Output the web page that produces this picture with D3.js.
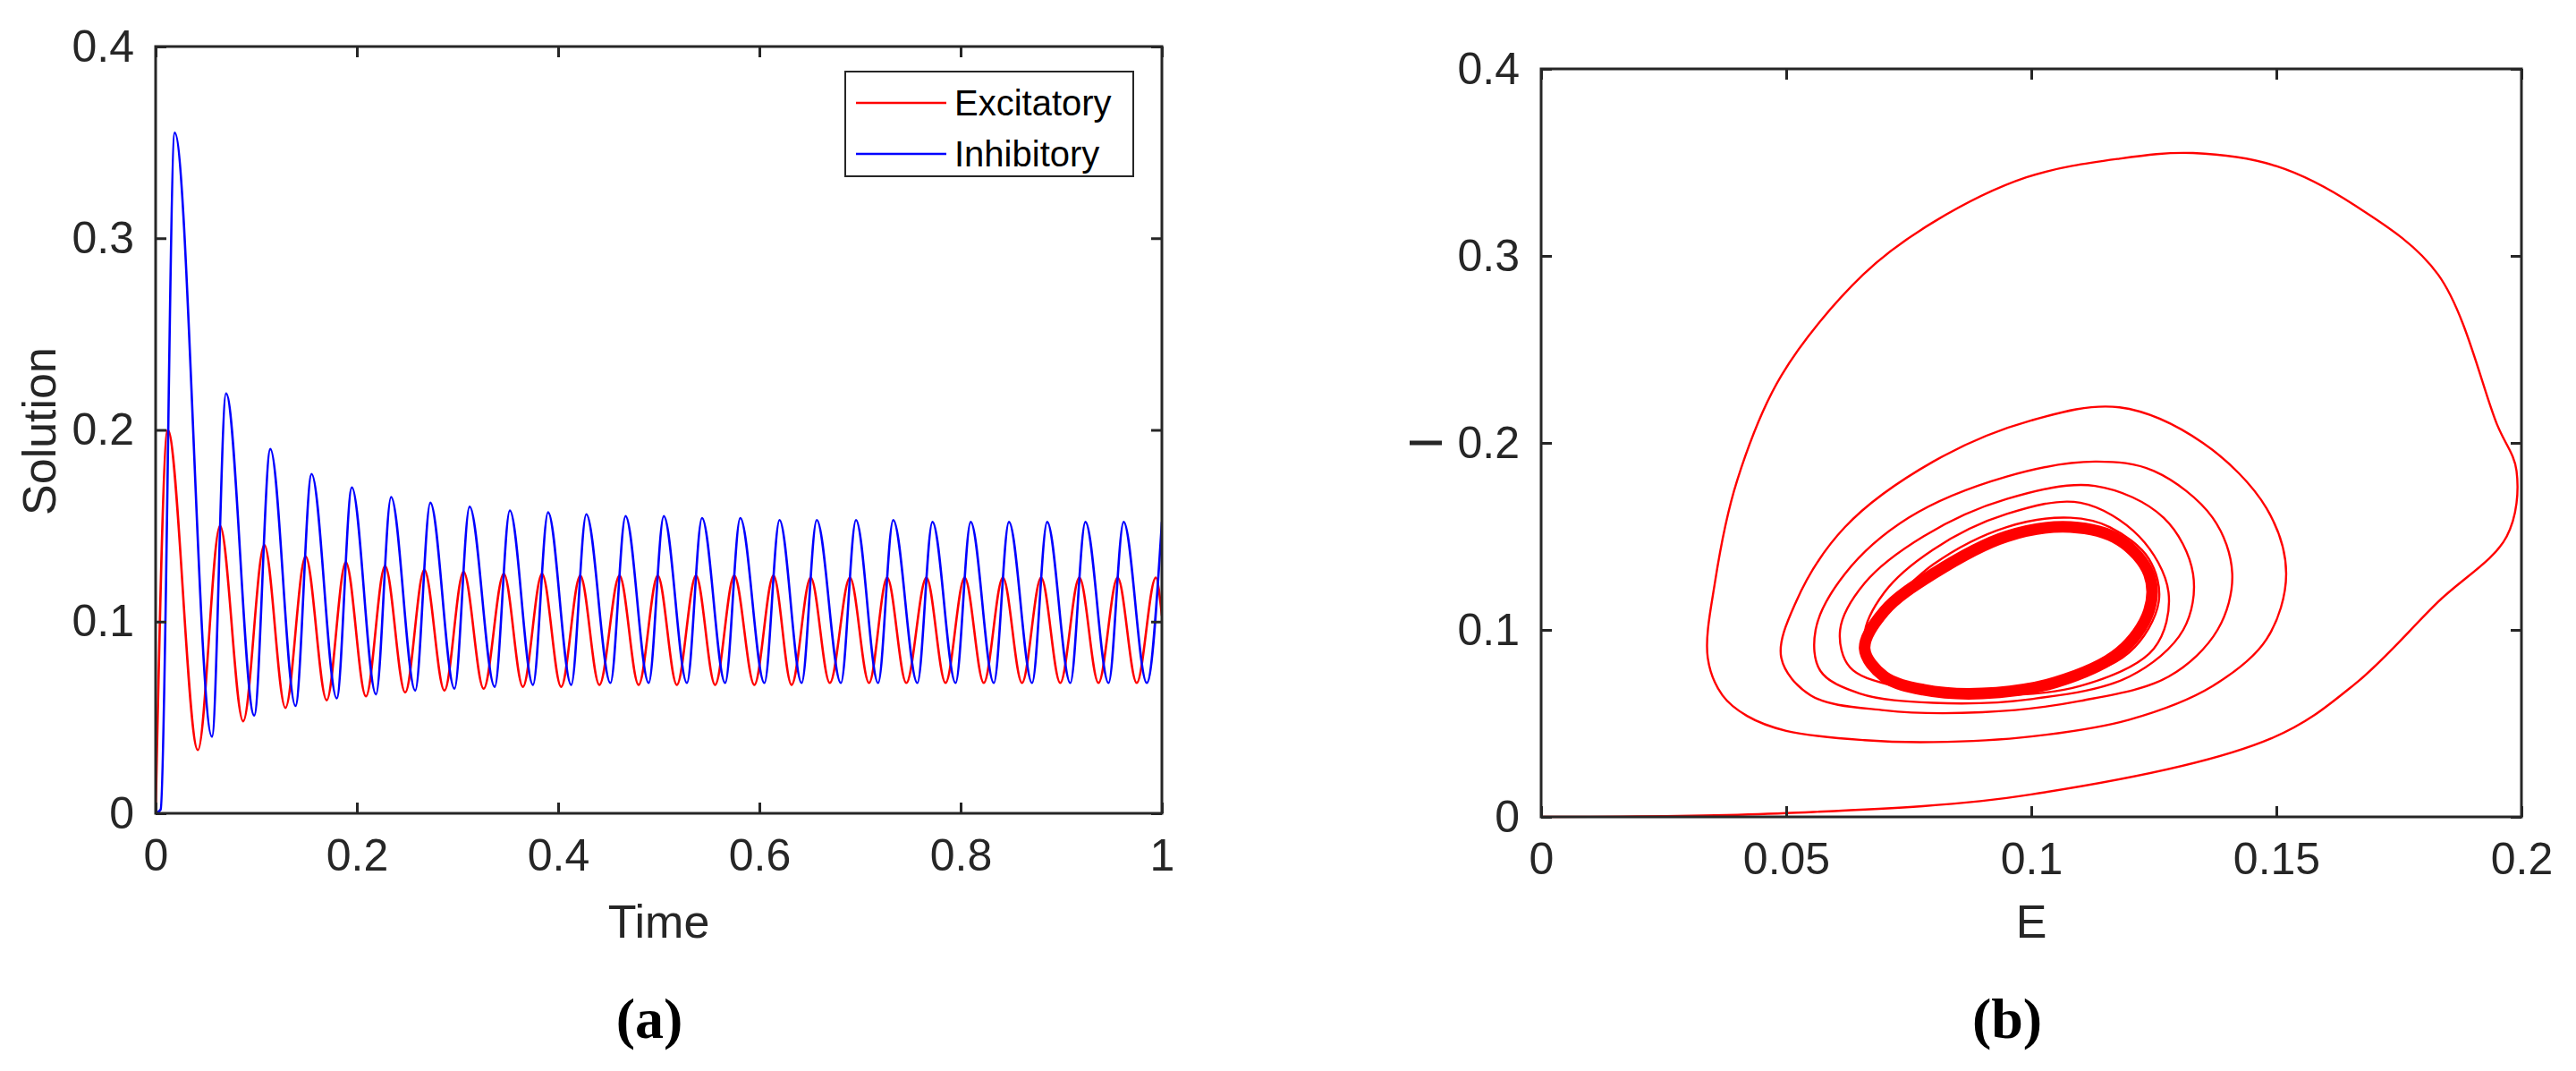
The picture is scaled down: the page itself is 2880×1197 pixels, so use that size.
<!DOCTYPE html>
<html><head><meta charset="utf-8">
<script src="https://cdn.jsdelivr.net/npm/d3@7"></script>
<style>body{margin:0;background:#fff}svg{display:block}</style>
</head><body>
<svg id="c" width="2880" height="1197"></svg>
<script>
// Panel (a): time series key points (t, value)
const excT = [0,0.012,0.042,0.064,0.087,0.108,0.129,0.149,0.170,0.189,0.209,0.228,0.248,0.267,0.287,0.306,0.326,0.346,0.365,0.384,0.403,0.422,0.441,0.461,0.480,0.499,0.518,0.537,0.556,0.575,0.595,0.614,0.632,0.651,0.670,0.690,0.709,0.727,0.746,0.766,0.785,0.804,0.823,0.842,0.861,0.880,0.899,0.918,0.937,0.956,0.975,0.994,1.0];
const excV = [0,0.200,0.033,0.150,0.048,0.140,0.055,0.134,0.059,0.131,0.061,0.129,0.063,0.127,0.064,0.126,0.065,0.125,0.066,0.125,0.066,0.124,0.067,0.124,0.067,0.124,0.067,0.124,0.067,0.124,0.067,0.124,0.067,0.123,0.068,0.123,0.068,0.123,0.068,0.123,0.068,0.123,0.068,0.123,0.068,0.123,0.068,0.123,0.068,0.123,0.068,0.123,0.103];
const inhT = [0,0.005,0.019,0.056,0.070,0.098,0.114,0.139,0.155,0.180,0.195,0.219,0.234,0.258,0.273,0.297,0.312,0.337,0.352,0.375,0.390,0.413,0.428,0.452,0.467,0.490,0.505,0.528,0.543,0.566,0.581,0.605,0.620,0.642,0.657,0.681,0.696,0.718,0.733,0.757,0.772,0.795,0.810,0.833,0.848,0.871,0.886,0.909,0.924,0.947,0.962,0.985,1.0];
const inhV = [0,0.002,0.355,0.040,0.219,0.051,0.190,0.056,0.177,0.060,0.170,0.062,0.165,0.064,0.162,0.065,0.160,0.066,0.158,0.067,0.157,0.067,0.156,0.068,0.155,0.068,0.155,0.068,0.154,0.068,0.154,0.068,0.153,0.068,0.153,0.068,0.153,0.068,0.153,0.068,0.152,0.068,0.152,0.068,0.152,0.068,0.152,0.068,0.152,0.068,0.152,0.068,0.152];
const timeTicks = [0,0.2,0.4,0.6,0.8,1];
const solTicks = [0,0.1,0.2,0.3,0.4];
const legendLabels = ["Excitatory","Inhibitory"];

// Panel (b): phase trajectory (E, I)
const spiralE = [0,0.05,0.1,0.149,0.166,0.183,0.197,0.199,0.195,0.183,0.166,0.15,0.133,0.118,0.099,0.08,0.0657,0.049,0.04,0.0355,0.034,0.037,0.042,0.05,0.066,0.08,0.1,0.12,0.137,0.148,0.152,0.148,0.135,0.118,0.1,0.08,0.062,0.052,0.049,0.055,0.07,0.09,0.11,0.128,0.138,0.141,0.137,0.125,0.113,0.095,0.075,0.062,0.056,0.057,0.065,0.08,0.1,0.12,0.131,0.133,0.127,0.113,0.095,0.078,0.066,0.061,0.063,0.072,0.09,0.11,0.125,0.128,0.122,0.11,0.095,0.08,0.07,0.066,0.069,0.078,0.09,0.105,0.12,0.126,0.124,0.116,0.108,0.095,0.08,0.068];
const spiralI = [0,0.002,0.012,0.042,0.071,0.115,0.15,0.185,0.21,0.29,0.327,0.348,0.355,0.352,0.342,0.318,0.29,0.236,0.18,0.126,0.085,0.065,0.054,0.046,0.041,0.040,0.043,0.052,0.07,0.095,0.13,0.165,0.2,0.219,0.212,0.19,0.155,0.115,0.085,0.065,0.057,0.056,0.062,0.075,0.1,0.13,0.16,0.185,0.19,0.182,0.16,0.13,0.1,0.078,0.066,0.061,0.063,0.075,0.1,0.13,0.16,0.177,0.17,0.15,0.125,0.1,0.08,0.07,0.065,0.07,0.09,0.12,0.15,0.168,0.162,0.143,0.12,0.097,0.078,0.069,0.066,0.071,0.088,0.115,0.138,0.155,0.16,0.155,0.135,0.105];
const cycleE = [0.066,0.070,0.078,0.09,0.105,0.118,0.124,0.124,0.118,0.108,0.095,0.08,0.07];
const cycleI = [0.09,0.075,0.068,0.066,0.072,0.088,0.11,0.13,0.148,0.155,0.15,0.13,0.11];
const eTicks = [0,0.05,0.1,0.15,0.2];
const iTicks = [0,0.1,0.2,0.3,0.4];

const svg = d3.select("#c");
const FONT = "'Liberation Sans', Arial, sans-serif";
const AX = "#262626";

function frame(g, x, y, xt, yt, xfmt, yfmt) {
  const [x0,x1] = x.range(), [y0,y1] = y.range();
  const tl = 12;
  g.append("rect").attr("x",x0).attr("y",y1).attr("width",x1-x0).attr("height",y0-y1)
    .attr("fill","none").attr("stroke",AX).attr("stroke-width",3);
  const bx = d3.axisBottom(x).tickValues(xt).tickSize(-tl).tickPadding(28).tickFormat(xfmt);
  const by = d3.axisLeft(y).tickValues(yt).tickSize(-tl).tickPadding(24).tickFormat(yfmt);
  const gx = g.append("g").attr("transform",`translate(0,${y0})`).call(bx);
  const gy = g.append("g").attr("transform",`translate(${x0},0)`).call(by);
  const gx2 = g.append("g").attr("transform",`translate(0,${y1})`).call(d3.axisTop(x).tickValues(xt).tickSize(-tl).tickFormat(""));
  const gy2 = g.append("g").attr("transform",`translate(${x1},0)`).call(d3.axisRight(y).tickValues(yt).tickSize(-tl).tickFormat(""));
  [gx,gy,gx2,gy2].forEach(a=>{
    a.select(".domain").remove();
    a.selectAll("line").attr("stroke",AX).attr("stroke-width",3);
    a.selectAll("text").attr("fill",AX).style("font-family",FONT).style("font-size","50px");
  });
}
const fmt = d => String(d);

// Panel (a)
{
  const x = d3.scaleLinear().domain([0,1]).range([174,1299]);
  const y = d3.scaleLinear().domain([0,0.4]).range([909,52]);
  const g = svg.append("g");
  const line = d3.line().x(d=>x(d[0])).y(d=>y(d[1])).curve(d3.curveMonotoneX);
  g.append("clipPath").attr("id","ca").append("rect").attr("x",174).attr("y",52).attr("width",1125).attr("height",857);
  g.append("path").datum(excT.map((t,i)=>[t,excV[i]])).attr("d",line)
    .attr("fill","none").attr("stroke","#ff0000").attr("stroke-width",2.6).attr("clip-path","url(#ca)");
  g.append("path").datum(inhT.map((t,i)=>[t,inhV[i]])).attr("d",line)
    .attr("fill","none").attr("stroke","#0000ff").attr("stroke-width",2.6).attr("clip-path","url(#ca)");
  frame(g, x, y, timeTicks, solTicks, fmt, fmt);
  g.append("text").attr("x",(174+1299)/2).attr("y",1048).attr("text-anchor","middle")
    .attr("fill",AX).style("font-family",FONT).style("font-size","52px").text("Time");
  g.append("text").attr("transform","translate(62,482) rotate(-90)").attr("text-anchor","middle")
    .attr("fill",AX).style("font-family",FONT).style("font-size","52px").text("Solution");
  const lg = g.append("g");
  lg.append("rect").attr("x",945).attr("y",80).attr("width",322).attr("height",117)
    .attr("fill","#fff").attr("stroke",AX).attr("stroke-width",2);
  const cols = ["#ff0000","#0000ff"];
  legendLabels.forEach((l,i)=>{
    const yy = 115 + i*57;
    lg.append("line").attr("x1",957).attr("x2",1058).attr("y1",yy).attr("y2",yy).attr("stroke",cols[i]).attr("stroke-width",2.6);
    lg.append("text").attr("x",1067).attr("y",yy+14).attr("fill","#000")
      .style("font-family",FONT).style("font-size","40px").text(l);
  });
  g.append("text").attr("x",726).attr("y",1160).attr("text-anchor","middle")
    .style("font-family","'Liberation Serif', serif").style("font-size","64px").style("font-weight","bold").text("(a)");
}

// Panel (b)
{
  const x = d3.scaleLinear().domain([0,0.2]).range([1723,2819]);
  const y = d3.scaleLinear().domain([0,0.4]).range([913,77]);
  const g = svg.append("g");
  const sp = d3.line().x(d=>x(d[0])).y(d=>y(d[1])).curve(d3.curveCatmullRom.alpha(0.5));
  g.append("path").datum(spiralE.map((e,i)=>[e,spiralI[i]])).attr("d",sp)
    .attr("fill","none").attr("stroke","#ff0000").attr("stroke-width",2.4);
  const cl = d3.line().x(d=>x(d[0])).y(d=>y(d[1])).curve(d3.curveCatmullRomClosed.alpha(0.5));
  g.append("path").datum(cycleE.map((e,i)=>[e,cycleI[i]])).attr("d",cl)
    .attr("fill","none").attr("stroke","#ff0000").attr("stroke-width",13);
  frame(g, x, y, eTicks, iTicks, fmt, fmt);
  g.append("text").attr("x",(1723+2819)/2).attr("y",1048).attr("text-anchor","middle")
    .attr("fill",AX).style("font-family",FONT).style("font-size","52px").text("E");
  g.append("text").attr("transform","translate(1612,495) rotate(-90)").attr("text-anchor","middle")
    .attr("fill",AX).style("font-family",FONT).style("font-size","52px").text("I");
  g.append("text").attr("x",2244).attr("y",1160).attr("text-anchor","middle")
    .style("font-family","'Liberation Serif', serif").style("font-size","64px").style("font-weight","bold").text("(b)");
}
</script>
</body></html>
